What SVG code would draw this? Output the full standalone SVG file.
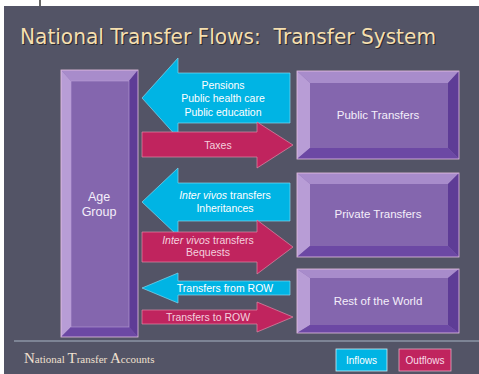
<svg xmlns="http://www.w3.org/2000/svg" width="479" height="374" viewBox="0 0 479 374">
<defs>
<style>
.face{fill:#8466ae}
.bt{fill:#a88ccb}
.bl{fill:#b89dd6}
.br{fill:#5e3c96}
.bb{fill:#6c48a4}
.edge{fill:none;stroke:#e8c0e4;stroke-width:0.8}
.lbl{font-family:"Liberation Sans",Arial,sans-serif;font-size:11.5px;fill:#f4eefa;text-anchor:middle}
.in{fill:#00b4e4;stroke:#7fd8f0;stroke-width:0.7}
.out{fill:#c0245e;stroke:#e08aa8;stroke-width:0.7}
.at{font-family:"Liberation Sans",Arial,sans-serif;font-size:10.5px;text-anchor:middle}
.wt{fill:#ffffff}
.pt{fill:#f4d0de}
.ttl{font-family:"DejaVu Sans",Verdana,sans-serif;font-size:21px;white-space:pre}
</style>
</defs>
<rect width="479" height="374" fill="#ffffff"/>
<line x1="40" y1="0" x2="40" y2="6" stroke="#000" stroke-width="1.2"/>
<rect x="4" y="6" width="475" height="368" fill="#535466"/>
<g id="title">
<text class="ttl" x="21" y="45" fill="#2a2a30" textLength="416" lengthAdjust="spacingAndGlyphs" xml:space="preserve">National Transfer Flows:  Transfer System</text>
<text class="ttl" x="20" y="44" fill="#f5dfaf" textLength="416" lengthAdjust="spacingAndGlyphs" xml:space="preserve">National Transfer Flows:  Transfer System</text>
</g>
<g id="age-group">
<rect class="face" x="61" y="70" width="77" height="267"/>
<polygon class="bt" points="61,70 138,70 129,81 71,81"/>
<polygon class="bl" points="61,70 71,81 71,327 61,337"/>
<polygon class="br" points="138,70 138,337 129,327 129,81"/>
<polygon class="bb" points="61,337 138,337 129,327 71,327"/>
<rect class="edge" x="61" y="70" width="77" height="267"/>
<rect x="71" y="81" width="58" height="246" fill="none" stroke="#b89dd6" stroke-width="0.6"/>
<text class="lbl" x="99" y="201" style="font-size:12.5px">Age</text>
<text class="lbl" x="99" y="216" style="font-size:12.5px">Group</text>
</g>
<g id="public-transfers">
<rect class="face" x="297" y="71" width="162" height="88"/>
<polygon class="bt" points="297,71 459,71 448,83 310,83"/>
<polygon class="bl" points="297,71 310,83 310,148 297,159"/>
<polygon class="br" points="459,71 459,159 448,148 448,83"/>
<polygon class="bb" points="297,159 459,159 448,148 310,148"/>
<rect class="edge" x="297" y="71" width="162" height="88"/>
<text class="lbl" x="378" y="119">Public Transfers</text>
</g>
<g id="private-transfers">
<rect class="face" x="297" y="173" width="162" height="84"/>
<polygon class="bt" points="297,173 459,173 448,184 310,184"/>
<polygon class="bl" points="297,173 310,184 310,246 297,257"/>
<polygon class="br" points="459,173 459,257 448,246 448,184"/>
<polygon class="bb" points="297,257 459,257 448,246 310,246"/>
<rect class="edge" x="297" y="173" width="162" height="84"/>
<text class="lbl" x="378" y="218">Private Transfers</text>
</g>
<g id="rest-of-world">
<rect class="face" x="297" y="269" width="162" height="64"/>
<polygon class="bt" points="297,269 459,269 448,278 310,278"/>
<polygon class="bl" points="297,269 310,278 310,325 297,333"/>
<polygon class="br" points="459,269 459,333 448,325 448,278"/>
<polygon class="bb" points="297,333 459,333 448,325 310,325"/>
<rect class="edge" x="297" y="269" width="162" height="64"/>
<text class="lbl" x="378" y="305">Rest of the World</text>
</g>
<g id="connectors">
<polygon class="in" points="142,98 178,58 178,73 290,73 290,123 178,123 178,138"/>
<polygon class="out" points="142,132 257,132 257,122 293,145 257,168 257,157 142,157"/>
<polygon class="in" points="142,202 178,168 178,183 290,183 290,221 178,221 178,236"/>
<polygon class="out" points="142,232 257,232 257,220 293,247 257,274 257,262 142,262"/>
<polygon class="in" points="142,288 178,273 178,281 290,281 290,295 178,295 178,303"/>
<polygon class="out" points="142,310 257,310 257,302 293,317 257,332 257,324 142,324"/>
</g>
<g id="arrow-labels">
<text class="at wt" x="223" y="89">Pensions</text>
<text class="at wt" x="223" y="102">Public health care</text>
<text class="at wt" x="223" y="116">Public education</text>
<text class="at pt" x="218" y="149">Taxes</text>
<text class="at wt" x="225" y="199"><tspan font-style="italic">Inter vivos</tspan> transfers</text>
<text class="at wt" x="225" y="212">Inheritances</text>
<text class="at pt" x="208" y="244"><tspan font-style="italic">Inter vivos</tspan> transfers</text>
<text class="at pt" x="208" y="256">Bequests</text>
<text class="at wt" x="225" y="292">Transfers from ROW</text>
<text class="at pt" x="208" y="321">Transfers to ROW</text>
</g>
<line x1="14" y1="341" x2="479" y2="341" stroke="#a8b4c4" stroke-width="1"/>
<g id="footer">
<text x="24" y="363" font-family="Liberation Serif,Times New Roman,serif" font-size="11" fill="#f0e0d0"><tspan font-size="15">N</tspan>ational <tspan font-size="15">T</tspan>ransfer <tspan font-size="15">A</tspan>ccounts</text>
</g>
<g id="legend-inflows">
<rect x="336" y="349" width="51" height="22" fill="#00b4e4" stroke="#c8eef8" stroke-width="0.8"/>
<text x="361.5" y="364" font-family="Liberation Sans,Arial,sans-serif" font-size="10" fill="#ffffff" text-anchor="middle">Inflows</text>
</g>
<g id="legend-outflows">
<rect x="399" y="349" width="52" height="22" fill="#c0245e" stroke="#e8a8c0" stroke-width="0.8"/>
<text x="425" y="364" font-family="Liberation Sans,Arial,sans-serif" font-size="10" fill="#f8dce8" text-anchor="middle">Outflows</text>
</g>
</svg>
